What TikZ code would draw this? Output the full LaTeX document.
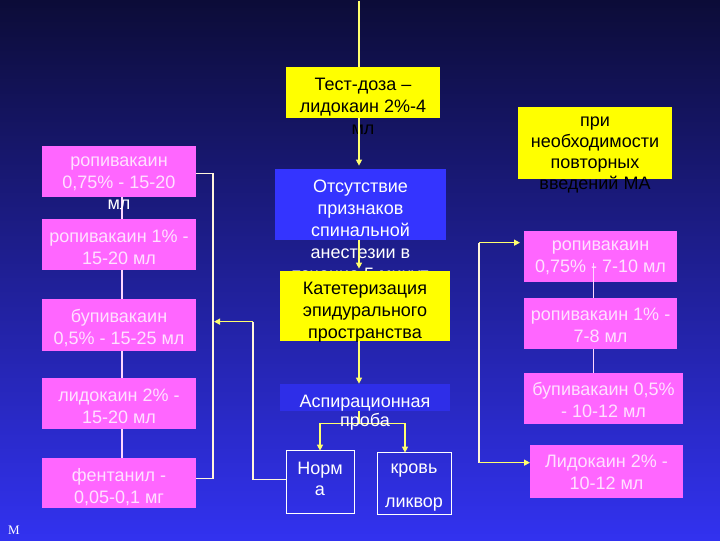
\documentclass[tikz,border=0pt]{standalone}
\usepackage{fontspec}
\setmainfont{Liberation Sans}
\newfontfamily\serifm{Liberation Serif}
\usetikzlibrary{arrows.meta,calc}
\definecolor{bgtop}{RGB}{12,12,56}
\definecolor{bgmid}{RGB}{34,34,170}
\definecolor{bgbot}{RGB}{50,50,240}
\definecolor{pinkc}{RGB}{255,102,255}
\definecolor{yelc}{RGB}{255,255,0}
\definecolor{bluebox}{RGB}{52,52,255}
\definecolor{aspbox}{RGB}{46,46,232}
\definecolor{lineyel}{RGB}{255,255,110}
\definecolor{linewht}{RGB}{255,245,220}
\definecolor{linepink}{RGB}{255,215,255}
\definecolor{pinktxt}{RGB}{255,225,255}
\begin{document}
\begin{tikzpicture}[x=1pt,y=-1pt,
  boxbase/.style={rectangle,inner sep=0pt,outer sep=0pt,anchor=north west},
  pinkbox/.style={boxbase,fill=pinkc},
  yelbox/.style={boxbase,fill=yelc},
  bluebx/.style={boxbase,fill=bluebox},
  aspbx/.style={boxbase,fill=aspbox},
  framebox/.style={boxbase,draw=white,line width=1pt},
  txt/.style={inner sep=0pt,outer sep=0pt,anchor=north,align=center,font=\fontsize{18}{22}\selectfont,execute at begin node={\rule{0pt}{14pt}}},
  wtxt/.style={txt,text=white},
  ptxt/.style={txt,text=pinktxt},
  btxt/.style={txt,text=black},
  yarrow/.style={draw=lineyel,line width=1.3pt,-{Triangle[length=6pt,width=6pt]}},
  yline/.style={draw=lineyel,line width=1.3pt},
  wline/.style={draw=linewht,line width=1.2pt},
  pline/.style={draw=linepink,line width=1.2pt},
]
% background
\shade[top color=bgtop, middle color=bgmid, bottom color=bgbot] (0,0) rectangle (720,540);

% ---------- left column ----------
\node[pinkbox,minimum width=154pt,minimum height=51pt] (l1) at (42,145) {};
\node[pinkbox,minimum width=154pt,minimum height=51pt] (l2) at (42,218) {};
\node[pinkbox,minimum width=154pt,minimum height=52pt] (l3) at (42,298) {};
\node[pinkbox,minimum width=154pt,minimum height=51pt] (l4) at (42,377) {};
\node[pinkbox,minimum width=154pt,minimum height=50pt] (l5) at (42,457) {};
\draw[pline] ($(l1.south)+(3,0)$) -- ($(l2.north)+(3,0)$);
\draw[pline] ($(l2.south)+(3,0)$) -- ($(l3.north)+(3,0)$);
\draw[pline] ($(l3.south)+(3,0)$) -- ($(l4.north)+(3,0)$);
\draw[pline] ($(l4.south)+(3,0)$) -- ($(l5.north)+(3,0)$);
\node[ptxt] (l1t) at ($(l1.north)+(0,11)$) {ропивакаин\\0,75\% - 15-20\\[-1pt]\textcolor{white}{мл}};
\node[ptxt] (l2t) at ($(l2.north)+(0,11)$) {ропивакаин 1\% -\\15-20 мл};
\node[ptxt] (l3t) at ($(l3.north)+(0,11)$) {бупивакаин\\0,5\% - 15-25 мл};
\node[ptxt] (l4t) at ($(l4.north)+(0,11)$) {лидокаин 2\% -\\15-20 мл};
\node[ptxt] (l5t) at ($(l5.north)+(0,11)$) {фентанил -\\0,05-0,1 мг};
% left bracket
\draw[wline] ($(l1.east)+(0,2)$) -- ++(17,0) |- ($(l5.east)+(0,-4)$);

% ---------- centre column ----------
\coordinate (ctop) at (359,0);
\node[yelbox,minimum width=154pt,minimum height=51pt] (t1) at (286,66) {};
\draw[yline] (ctop) -- (ctop |- t1.north);
\node[btxt] (t1t) at ($(t1.north)+(0,11)$) {Тест-доза –\\лидокаин 2\%-4\\мл};
\node[bluebx,minimum width=171pt,minimum height=71pt] (o) at (275,168) {};
\draw[yarrow,shorten >=3pt] (ctop |- t1.south) -- (ctop |- o.north);
\node[wtxt] (ot) at ($(o.north)+(0,11)$) {Отсутствие\\признаков\\спинальной\\анестезии в\\течение 5 минут};
\draw[yarrow,shorten >=2pt] (ctop |- o.south) -- (ctop |- 0,270);
\node[yelbox,minimum width=170pt,minimum height=70pt] (k) at (280,270) {};
\node[btxt] (kt) at ($(k.north)+(0,11)$) {Катетеризация\\эпидурального\\пространства};
\node[aspbx,minimum width=170pt,minimum height=27pt] (a) at (280,383) {};
\draw[yarrow] (ctop |- k.south) -- (ctop |- a.north);
\node[framebox,minimum width=68pt,minimum height=63pt] (norma) at (286,450) {};
\node[framebox,minimum width=74pt,minimum height=62pt] (krov) at (377,452) {};
\coordinate (br) at (359,423);
\draw[yline] (ctop |- a.south) -- (br);
\draw[yarrow] (br) -| (norma.north);
\draw[yarrow] (br) -| ($(krov.north)+(-9,0)$);
\node[wtxt] (at) at ($(a.north)+(0,11)$) {Аспирационная\\[-3pt]проба};
\node[wtxt] (normat) at ($(norma.north)+(0,11)$) {Норм\\[-1pt]а};
\node[wtxt] (krovt) at ($(krov.north)+(0,11)$) {кровь\\[12pt]ликвор};
% return arrow from Норма
\coordinate (nb) at (253,321);
\coordinate (nbend) at (214,321);
\draw[wline] ($(norma.west)+(0,-2.5)$) -| (nb);
\draw[yarrow] (nb) -- (nbend);

% ---------- right column ----------
\node[yelbox,minimum width=154pt,minimum height=72pt] (ry) at (518,106) {};
\node[btxt] (ryt) at ($(ry.north)+(0,10.5)$) {при\\[-1pt]необходимости\\[-1pt]повторных\\[-1pt]введений МА};
\node[pinkbox,minimum width=153pt,minimum height=51pt] (r1) at (524,230) {};
\node[pinkbox,minimum width=153pt,minimum height=51pt] (r2) at (524,297) {};
\node[pinkbox,minimum width=159pt,minimum height=51pt] (r3) at (524,372) {};
\node[pinkbox,minimum width=153pt,minimum height=53pt] (r4) at (530,444) {};
\draw[pline] ($(r1.south)+(-7,-19)$) -- ($(r2.north)+(-7,0)$);
\draw[pline] ($(r2.south)+(-7,0)$) -- ($(r2.south)+(-7,24)$);
\node[ptxt] (r1t) at ($(r1.north)+(0,10)$) {ропивакаин\\0,75\% - 7-10 мл};
\node[ptxt] (r2t) at ($(r2.north)+(0,10)$) {ропивакаин 1\% -\\7-8 мл};
\node[ptxt] (r3t) at ($(r3.north)+(0,10)$) {бупивакаин 0,5\%\\- 10-12 мл};
\node[ptxt] (r4t) at ($(r4.north)+(0,10)$) {Лидокаин 2\% -\\10-12 мл};
% right bracket
\coordinate (rb1) at (479,242);
\coordinate (rb2) at (479,462);
\draw[wline] (rb1) -- (rb2);
\draw[yarrow] (rb1) -- ($(rb1 -| r1.west)+(-4,0)$);
\draw[yarrow] (rb2) -- (rb2 -| r4.west);

% corner mark
\node[inner sep=0pt,text=white,font=\serifm\fontsize{13}{13}\selectfont] (mark) at (14,529.5) {M};
\end{tikzpicture}
\end{document}
